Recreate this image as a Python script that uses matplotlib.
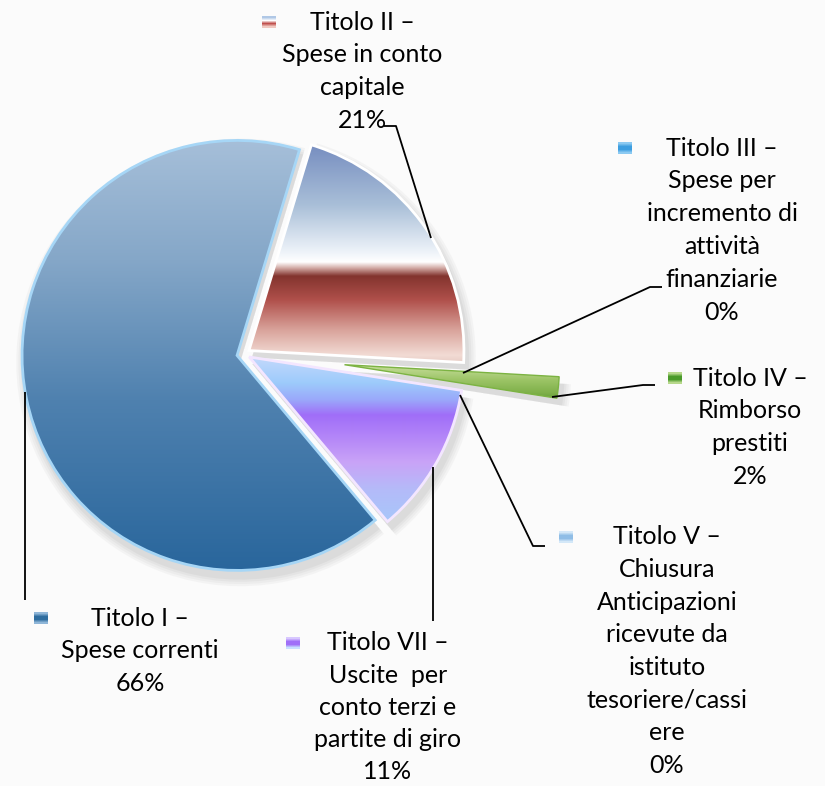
import numpy as np
import matplotlib
matplotlib.use("Agg")
import matplotlib.pyplot as plt
from matplotlib.patches import Wedge
from matplotlib.colors import to_rgb

# ---------------- data ----------------
categories = [
    "Titolo I –\nSpese correnti",
    "Titolo II –\nSpese in conto\ncapitale",
    "Titolo III –\nSpese per\nincremento di\nattività\nfinanziarie",
    "Titolo IV –\nRimborso\nprestiti",
    "Titolo V –\nChiusura\nAnticipazioni\nricevute da\nistituto\ntesoriere/cassi\nere",
    "Titolo VII –\nUscite  per\nconto terzi e\npartite di giro",
]
values = [65.8, 21.2, 0, 1.6, 0, 11.4]
pct_labels = ["66%", "21%", "0%", "2%", "0%", "11%"]

# ---------------- layout / style ----------------
W, H = 825, 786
CX, CY, R = 244, 354, 215          # pie centre / radius in pixels
explode = [0.033, 0.028, 0.0, 0.47, 0.0, 0.028]
FONT = "Lato"
FS = 18

# vertical colour stops (pixel y, colour) per slice
stops = [
    [(140, "#a6bfd9"), (260, "#85a7c8"), (400, "#4f81af"), (570, "#29669c")],
    [(150, "#7b92c2"), (205, "#a9bfd8"), (252, "#eef3f9"), (262, "#ffffff"),
     (268, "#d2aaa5"), (276, "#83342e"), (300, "#b0504b"), (330, "#d9a39b"),
     (355, "#f2dbd4"), (364, "#e6cbc3"), (372, "#8a4a3e")],
    [(0, "#3d9ee0"), (800, "#3d9ee0")],
    [(366, "#c4dc98"), (380, "#9cc466"), (393, "#7eb049"), (405, "#4a8a2a")],
    [(0, "#a5cdee"), (800, "#a5cdee")],
    [(358, "#c2d8fb"), (383, "#9dcbfb"), (400, "#9aa7fa"), (415, "#a06ef8"),
     (440, "#b689f8"), (462, "#c9a3f7"), (490, "#b4bbf9"), (522, "#a7c7fa")],
]
edgecolors = ["#a6d6f6", "#ffffff", "#3d9ee0", "#7cb342", "#a5cdee", "#f3e6ff"]
edgewidths = [2.0, 2.0, 0, 1.0, 0, 2.0]
marker_stops = [
    ["#8fb6d8", "#2f6d9f", "#2f6d9f", "#8fb6d8"],
    ["#b0c8e6", "#ffffff", "#c0504d", "#f0c8c0"],
    ["#8ccaf2", "#3d9ee0", "#3d9ee0", "#8ccaf2"],
    ["#b7d88c", "#4a9a2a", "#4a9a2a", "#b7d88c"],
    ["#d4e8f8", "#8fbde6", "#8fbde6", "#d4e8f8"],
    ["#d8c8ff", "#a070f8", "#a070f8", "#c8e0ff"],
]

# label positions (pixel): centre x, first-line centre y, marker position, line step
label_pos = [
    (140, 618, (41, 618), 32.8),
    (362, 22, (269, 22), 32.8),
    (722, 148, (625, 148), 32.8),
    (750, 378, (675, 378), 32.8),
    (667, 537, (566, 537), 32.6),
    (388, 643, (293, 643), 32.2),
]

# leader lines (pixel polylines)
leaders = [
    [(25, 392), (25, 600)],
    [(384, 126), (396, 126), (431, 238)],
    [(662, 287), (650, 287), (463, 373)],
    [(552, 397), (643, 385), (655, 385)],
    [(460, 395), (533, 546), (545, 546)],
    [(433, 467), (433, 621)],
]

BG = "#fbfbfb"

fig = plt.figure(figsize=(W / 100, H / 100), dpi=100, facecolor=BG)

# pie axes: data unit = radius, origin at pie centre
ax = fig.add_axes([0, 0, 1, 1])
ax.set_facecolor(BG)
wedges, _ = ax.pie(values, explode=explode, startangle=-50, counterclock=False,
                   radius=1.0, center=(0, 0),
                   wedgeprops=dict(linewidth=2.0))
ax.set_aspect("auto")
ax.axis("off")


def grad_image(stp, ny=H):
    ys = np.arange(ny) + 0.5
    sy = np.array([s[0] for s in stp], float)
    cols = np.array([to_rgb(s[1]) for s in stp])
    img = np.zeros((ny, 1, 3))
    for k in range(3):
        img[:, 0, k] = np.interp(ys, sy, cols[:, k])
    return img


extent = (-CX / R, (W - CX) / R, (CY - H) / R, CY / R)
for i, w in enumerate(wedges):
    if values[i] == 0:
        w.set_visible(False)
        continue
    # soft shadow
    cx, cy = w.center
    for k, a in enumerate([0.05, 0.05, 0.06, 0.07]):
        sh = Wedge((cx + 3 / R, cy - 7 / R), w.r + (4 - k) * 2.2 / R,
                   w.theta1, w.theta2, facecolor="#6e6e6e", edgecolor="none",
                   alpha=a, zorder=0.5)
        ax.add_patch(sh)
    w.set_facecolor("none")
    w.set_edgecolor(edgecolors[i])
    w.set_linewidth(edgewidths[i])
    w.set_zorder(3)
    img = ax.imshow(grad_image(stops[i]), extent=extent, aspect="auto",
                    origin="upper", interpolation="bilinear", zorder=2)
    img.set_clip_path(w)

ax.set_xlim(extent[0], extent[1])
ax.set_ylim(extent[2], extent[3])

# overlay axes in pixel coordinates for labels
ax2 = fig.add_axes([0, 0, 1, 1], facecolor="none")
ax2.axis("off")

for i, cat in enumerate(categories):
    lx, ly, (mx, my), step = label_pos[i]
    lines = cat.split("\n") + [pct_labels[i]]
    for j, line in enumerate(lines):
        ax2.text(lx, ly + j * step, line, ha="center", va="center",
                 fontsize=FS, family=FONT, color="black")
    # legend-key marker with gradient
    ms = marker_stops[i]
    mimg = np.array([to_rgb(c) for c in ms]).reshape(len(ms), 1, 3)
    ax2.imshow(mimg, extent=(mx - 7, mx + 7, my + 6, my - 6), aspect="auto",
               interpolation="bilinear", zorder=4)
    pts = np.array(leaders[i])
    ax2.plot(pts[:, 0], pts[:, 1], color="black", lw=1.3, solid_capstyle="butt",
             zorder=5)

ax2.set_xlim(0, W)
ax2.set_ylim(H, 0)

fig.savefig("out.png", dpi=100, facecolor=BG)
